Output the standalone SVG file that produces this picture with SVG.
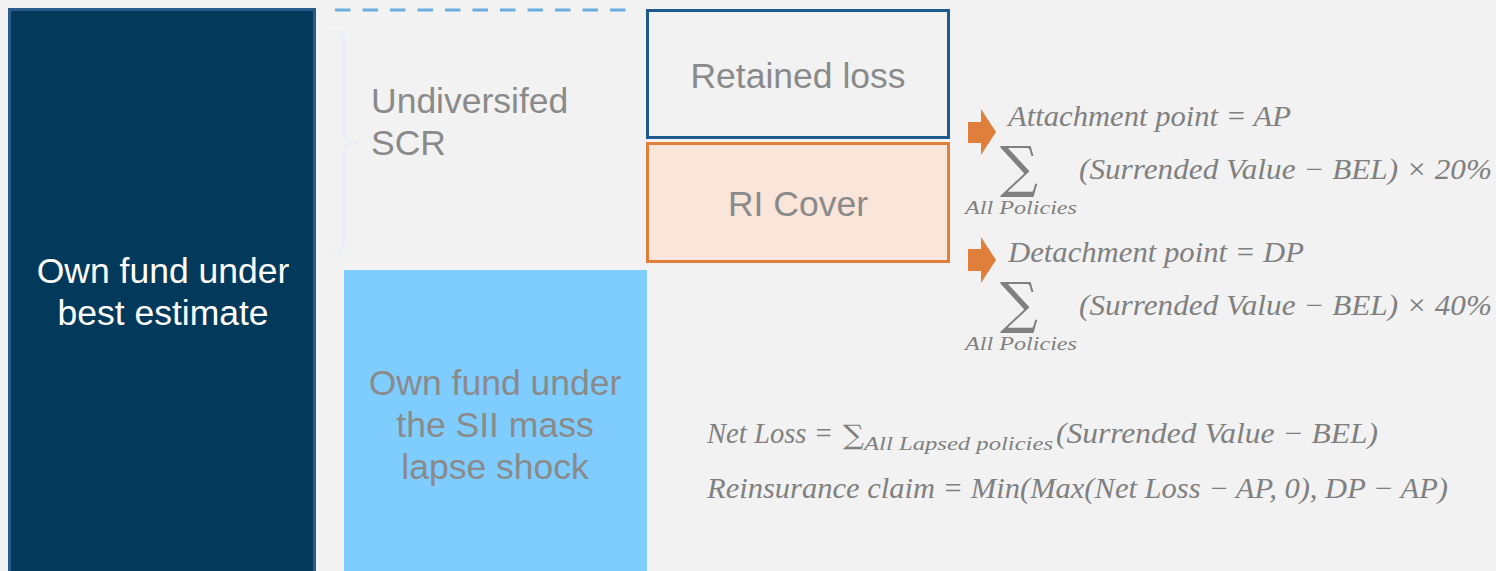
<svg xmlns="http://www.w3.org/2000/svg" width="1496" height="571" viewBox="0 0 1496 571">
<style>
.lbl{font-family:"Liberation Sans",Arial,sans-serif;font-size:35.5px;text-anchor:middle}
.gray{fill:#8a8a8a}
.math{font-family:"Liberation Serif","Times New Roman",serif;font-style:italic;fill:#808080;font-size:29px}
.sub{font-family:"Liberation Serif","Times New Roman",serif;font-style:italic;fill:#808080;font-size:19px}
.sig{font-family:"DejaVu Serif",serif;fill:#808080}
.arrow{fill:#e07e3c}
</style>
<rect width="1496" height="571" fill="#f2f2f2"/>
<g id="own-fund-best-estimate">
<rect x="9.5" y="9.5" width="305" height="570" fill="#03395a" stroke="#2a5b8c" stroke-width="3"/>
<text class="lbl" x="163" y="283" fill="#ffffff">Own fund under</text>
<text class="lbl" x="163" y="325" fill="#ffffff">best estimate</text>
</g>
<g id="undiversified-scr">
<line x1="335" y1="10" x2="632" y2="10" stroke="#6aaee0" stroke-width="3" stroke-dasharray="15.5 12"/>
<path d="M333 31 Q344 31 344 42 L344 137 Q344 143 358 143 Q344 143 344 149 L344 242 Q344 253 333 253" fill="none" stroke="#e9eef5" stroke-width="2"/>
<text class="lbl gray" x="371" y="113" style="text-anchor:start">Undiversifed</text>
<text class="lbl gray" x="371" y="155" style="text-anchor:start">SCR</text>
</g>
<g id="own-fund-sii">
<rect x="344" y="270" width="303" height="301" fill="#7fcdfe"/>
<text class="lbl gray" x="495" y="395">Own fund under</text>
<text class="lbl gray" x="495" y="437">the SII mass</text>
<text class="lbl gray" x="495" y="479">lapse shock</text>
</g>
<g id="retained-loss">
<rect x="647.5" y="10.5" width="301" height="127" fill="#f2f2f2" stroke="#1f5a8f" stroke-width="3"/>
<text class="lbl gray" x="798" y="88">Retained loss</text>
</g>
<g id="ri-cover">
<rect x="647.5" y="143.5" width="301" height="118" fill="#f9e5d9" stroke="#e07e3c" stroke-width="3"/>
<text class="lbl gray" x="798" y="216">RI Cover</text>
</g>
<g id="connectors">
<polygon class="arrow" points="968,122 981,122 981,109 996,132 981,155 981,143 968,143"/>
<polygon class="arrow" points="968,249 981,249 981,237 996,260 981,283 981,271 968,271"/>
</g>
<g id="attachment-formula">
<text class="math" x="1008" y="126" textLength="283" lengthAdjust="spacingAndGlyphs">Attachment point = AP</text>
<text class="sig" x="1000" y="186" font-size="56" textLength="38" lengthAdjust="spacingAndGlyphs">∑</text>
<text class="sub" x="965" y="214" textLength="112" lengthAdjust="spacingAndGlyphs">All Policies</text>
<text class="math" x="1079" y="179" textLength="413" lengthAdjust="spacingAndGlyphs">(Surrended Value − BEL) × 20%</text>
</g>
<g id="detachment-formula">
<text class="math" x="1008" y="262" textLength="296" lengthAdjust="spacingAndGlyphs">Detachment point  = DP</text>
<text class="sig" x="1000" y="322" font-size="56" textLength="38" lengthAdjust="spacingAndGlyphs">∑</text>
<text class="sub" x="965" y="350" textLength="112" lengthAdjust="spacingAndGlyphs">All Policies</text>
<text class="math" x="1079" y="315" textLength="413" lengthAdjust="spacingAndGlyphs">(Surrended Value − BEL) × 40%</text>
</g>
<g id="net-loss-formula">
<text class="math" x="707" y="443" textLength="126" lengthAdjust="spacingAndGlyphs">Net Loss =</text>
<text class="sig" x="843" y="444" font-size="27" textLength="21" lengthAdjust="spacingAndGlyphs">∑</text>
<text class="sub" x="864" y="450" textLength="189" lengthAdjust="spacingAndGlyphs">All Lapsed policies</text>
<text class="math" x="1056" y="443" textLength="322" lengthAdjust="spacingAndGlyphs">(Surrended Value − BEL)</text>
<text class="math" x="707" y="498" textLength="741" lengthAdjust="spacingAndGlyphs">Reinsurance claim = Min(Max(Net Loss  − AP, 0), DP − AP)</text>
</g>
</svg>
